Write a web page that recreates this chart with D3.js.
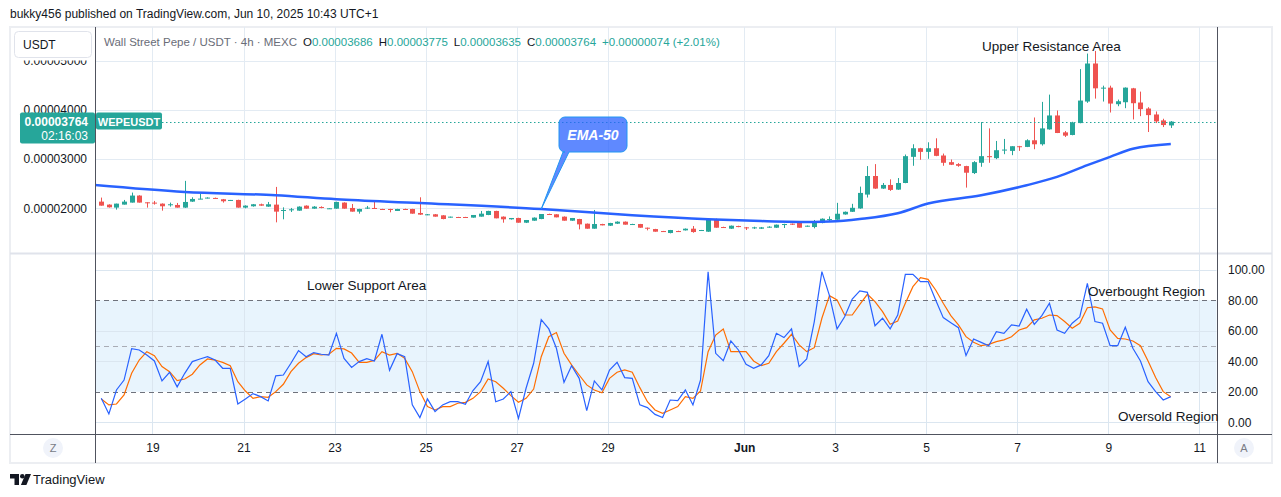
<!DOCTYPE html>
<html>
<head>
<meta charset="utf-8">
<script src="https://cdn.jsdelivr.net/npm/d3@7"></script>
<style>
body { margin: 0; background: #fff; }
text { font-family: "Liberation Sans", Arial, sans-serif; }
</style>
</head>
<body>
<div id="chart"></div>
<script>
// WEPE/USDT 4h candles, prices in units of 1e-8 USDT
var opens = [2136,2075,2014,2075,2116,2259,2122,2116,2095,2068,2068,2014,2136,2184,2204,2211,2184,2156,2170,2014,
  2041,2082,2034,2075,1952,1959,1952,2054,1993,2027,1993,1993,2116,2007,1932,2000,2007,1986,1986,1946,
  1986,1986,1905,1871,1878,1857,1816,1823,1823,1810,1830,1864,1946,1830,1776,1803,1707,1748,1782,1884,
  1878,1830,1748,1782,1687,1585,1680,1646,1687,1728,1667,1680,1605,1578,1537,1497,1537,1551,1585,1544,
  1524,1782,1619,1585,1639,1612,1599,1585,1612,1605,1667,1687,1701,1633,1619,1700,1761,1768,1875,1929,
  1997,2279,2657,2401,2475,2380,2515,3047,3222,3148,3222,3074,2939,2899,2859,2717,2926,3061,3020,3182,
  3168,3263,3249,3384,3303,3606,3889,3545,3492,3734,4172,4946,4441,4455,4118,4158,4441,4152,4030,3909,
  3788,3686];
var highs = [2218,2082,2095,2170,2320,2266,2122,2150,2100,2116,2109,2558,2224,2299,2224,2218,2190,2170,2175,2060,
  2088,2095,2129,2435,2020,2007,2040,2060,2045,2040,2005,2135,2122,2088,1990,2048,2129,1990,1990,1990,
  1993,1990,2224,1884,1884,1860,1830,1826,1826,1864,1946,1950,1950,1835,1803,1808,1762,1815,1884,1891,
  1880,1835,1803,1786,1690,1966,1685,1705,1735,1732,1685,1683,1608,1582,1540,1560,1544,1590,1639,1560,
  1782,1790,1625,1650,1645,1620,1625,1620,1635,1670,1685,1690,1705,1650,1762,1795,1835,2111,1935,2091,
  2441,2859,2899,2515,2589,2616,3094,3303,3230,3343,3424,3114,2993,2919,2865,2960,3754,3626,3370,3411,
  3263,3270,3404,3848,4165,4313,3990,3572,3760,4832,5148,5202,4495,4495,4212,4460,4450,4374,4057,3970,
  3822,3775];
var lows = [2054,2014,1973,2075,2116,2116,2014,2075,1952,2034,2014,2007,2130,2184,2200,2197,2116,2150,2014,2000,
  2034,2050,2030,1714,1776,1925,1950,1993,1990,2000,1990,1990,1993,1932,1891,1986,1986,1973,1918,1946,
  1970,1891,1864,1860,1830,1776,1810,1810,1810,1810,1830,1860,1796,1707,1770,1707,1700,1745,1778,1864,
  1816,1748,1745,1571,1585,1585,1653,1640,1680,1667,1660,1605,1551,1524,1520,1490,1520,1548,1503,1540,
  1520,1605,1600,1580,1615,1558,1580,1580,1605,1600,1599,1660,1605,1625,1592,1695,1721,1765,1870,1925,
  1990,2219,2395,2395,2354,2375,2510,2865,2987,3007,3060,2865,2880,2845,2421,2697,2845,2926,3000,3101,
  3081,3168,3245,3202,3276,3600,3530,3451,3485,3730,4145,4232,4172,3949,4077,4037,3808,3875,3552,3734,
  3653,3635];
var closes = [2054,2020,2095,2136,2259,2116,2109,2095,2041,2082,2014,2129,2190,2197,2218,2197,2143,2170,2014,2054,
  2082,2054,2082,1932,1966,1980,2034,1993,2034,2007,2000,2129,1993,1932,1986,2014,1986,1973,1973,1986,
  1973,1891,1871,1878,1830,1782,1830,1810,1816,1864,1891,1946,1796,1776,1803,1707,1762,1810,1884,1871,
  1816,1748,1803,1673,1585,1680,1653,1701,1728,1667,1680,1605,1592,1524,1524,1558,1524,1585,1517,1558,
  1782,1605,1605,1646,1619,1599,1612,1612,1626,1667,1680,1667,1605,1646,1714,1788,1781,1889,1929,2010,
  2313,2657,2401,2475,2374,2515,3061,3222,3148,3222,3067,2926,2886,2865,2724,2939,3061,3040,3182,3195,
  3263,3249,3384,3303,3626,3889,3532,3478,3747,4192,4946,4441,4455,4131,4178,4455,4138,4017,3896,3768,
  3694,3764];

// EMA-50 at some candles (candle index from 0, -1 = bar just left of the view)
var emaIdx = [-1,11,23,31,42,58,70,80,87,94,96,100,105,109,116,122,126,130,133,136,141];
var emaVal = [2475,2333,2265,2184,2108,1986,1857,1776,1740,1720,1729,1782,1898,2096,2265,2469,2639,2878,3047,3210,3306];

// Stochastic %K and %D
var stochK = [15.7,5.5,21.2,27.7,48.3,47.4,44.1,40.2,27.1,32.8,23.2,32.1,39.8,41.5,43.0,40.8,35.4,35.4,12.0,15.3,
  18.8,16.8,14.0,30.4,31.0,38.7,47.0,43.0,45.7,44.6,44.1,58.3,41.9,36.0,39.8,41.7,40.2,57.7,34.1,45.0,
  43.0,11.4,3.1,15.3,7.0,11.4,13.5,13.5,11.8,20.8,26.6,39.8,13.5,15.3,20.1,2.6,22.3,38.7,67.3,61.2,
  48.5,26.2,37.1,28.8,7.6,27.1,21.2,34.3,39.3,29.3,28.8,11.4,9.6,5.2,3.1,14.6,14.2,21.2,11.4,27.7,
  98.7,45.2,40.4,53.3,47.4,38.0,35.4,37.6,43.7,58.3,55.5,61.2,36.5,41.5,66.0,98.7,83.0,61.2,69.2,80.8,
  86.1,85.2,63.3,68.2,61.2,70.3,97.0,97.0,92.2,92.2,80.2,68.6,65.3,62.0,43.7,54.6,52.4,50.2,59.4,58.3,
  63.8,63.1,74.1,64.2,69.9,78.0,60.5,58.3,64.9,69.0,91.1,66.0,64.9,50.2,50.2,62.3,48.5,40.2,26.6,20.1,
  14.6,16.8];
var stochD = [15.3,11.4,12.0,17.9,32.1,40.8,46.3,43.7,36.5,33.2,27.3,28.4,31.5,37.6,41.5,40.8,39.3,37.1,26.6,20.5,
  15.7,16.8,16.4,20.1,24.9,33.2,38.7,42.4,45.0,44.1,44.6,48.5,48.1,45.4,39.3,39.3,40.6,46.3,44.1,45.2,
  41.9,33.2,20.1,10.3,8.1,10.3,10.3,12.5,13.1,15.7,20.1,28.4,26.6,22.3,17.5,13.1,15.7,21.8,43.0,56.1,
  58.8,45.2,37.6,31.0,24.5,21.2,19.4,28.8,32.8,34.3,32.8,22.7,13.5,8.1,5.9,8.1,10.3,16.8,15.7,20.5,
  46.3,57.2,61.2,46.3,46.3,46.3,40.2,37.1,38.7,46.3,51.8,57.7,50.7,46.3,48.9,68.2,83.0,80.2,70.3,70.3,
  77.3,83.9,79.1,72.5,64.2,66.4,78.0,88.9,94.8,93.7,86.7,78.0,69.9,63.8,56.1,52.4,50.2,51.1,52.9,54.0,
  56.1,60.5,62.0,67.1,68.2,70.3,69.9,66.0,61.6,64.9,75.1,75.6,74.3,60.5,55.0,54.6,53.3,50.2,40.2,29.3,
  20.1,16.8];

var dayTicks = ["2025-05-19","2025-05-21","2025-05-23","2025-05-25","2025-05-27","2025-05-29",
  "2025-06-01","2025-06-03","2025-06-05","2025-06-07","2025-06-09","2025-06-11"];
var dayLabels = ["19","21","23","25","27","29","Jun","3","5","7","9","11"];
var priceTicks = [2000, 3000, 4000, 5000];
var stochTicks = [0, 20, 40, 60, 80, 100];
var stochGrid = [0, 40, 60, 100];
var lastPrice = 3764;

var W = 1281, H = 497;
var plotL = 95, plotR = 1217, plotT = 27, sep = 253, plotB = 434, timeB = 463;
var up = "#26a69a", down = "#ef5350", gridCol = "#e3ebf3", ink = "#131722";

var t0 = Date.UTC(2025, 4, 17, 21);
var bar = 4 * 3600 * 1000;
var dates = closes.map(function (d, i) { return new Date(t0 + i * bar); });
var ticks = dayTicks.map(function (d) { return new Date(d + "T00:00:00Z"); });

var x = d3.scaleUtc().domain([dates[0], dates[dates.length - 1]]).range([101.3, 1170.8]);
var y = d3.scaleLinear().domain([2000, 4000]).range([208.3, 110]);
var ys = d3.scaleLinear().domain([0, 100]).range([422.3, 269.7]);

var svg = d3.select('#chart').append('svg')
    .attr('width', W)
    .attr('height', H);

svg.append("rect").attr("width", W).attr("height", H).attr("fill", "#fff");

var defs = svg.append("defs");
defs.append("clipPath").attr("id", "clipP").append("rect")
    .attr("x", plotL + 0.5).attr("y", plotT).attr("width", plotR - plotL - 1).attr("height", sep - plotT);
defs.append("clipPath").attr("id", "clipS").append("rect")
    .attr("x", plotL + 0.5).attr("y", sep).attr("width", plotR - plotL - 1).attr("height", plotB - sep);

// frame
svg.append("rect")
    .attr("x", 10).attr("y", plotT).attr("width", 1262).attr("height", timeB - plotT)
    .attr("fill", "none").attr("stroke", "#eceef2").attr("stroke-width", 2);

// price panel grid
var gp = svg.append("g").attr("clip-path", "url(#clipP)");
gp.selectAll(".hg").data(priceTicks).enter().append("line")
    .attr("x1", plotL).attr("x2", plotR)
    .attr("y1", function (d) { return Math.round(y(d)) + 0.5; })
    .attr("y2", function (d) { return Math.round(y(d)) + 0.5; })
    .attr("stroke", gridCol);
gp.selectAll(".vg").data(ticks).enter().append("line")
    .attr("x1", function (d) { return Math.round(x(d)) + 0.5; })
    .attr("x2", function (d) { return Math.round(x(d)) + 0.5; })
    .attr("y1", plotT).attr("y2", sep)
    .attr("stroke", gridCol);

// stochastic panel background
var gs = svg.append("g").attr("clip-path", "url(#clipS)");
gs.append("rect")
    .attr("x", plotL).attr("width", plotR - plotL)
    .attr("y", ys(80)).attr("height", ys(20) - ys(80))
    .attr("fill", "#e8f4fd");
gs.selectAll(".hg").data(stochGrid).enter().append("line")
    .attr("x1", plotL).attr("x2", plotR)
    .attr("y1", function (d) { return Math.round(ys(d)) + 0.5; })
    .attr("y2", function (d) { return Math.round(ys(d)) + 0.5; })
    .attr("stroke", "#dbe6f0");
gs.selectAll(".vg").data(ticks).enter().append("line")
    .attr("x1", function (d) { return Math.round(x(d)) + 0.5; })
    .attr("x2", function (d) { return Math.round(x(d)) + 0.5; })
    .attr("y1", sep).attr("y2", plotB)
    .attr("stroke", "#dbe6f0");
gs.selectAll(".band").data([80, 50, 20]).enter().append("line")
    .attr("x1", plotL).attr("x2", plotR)
    .attr("y1", function (d) { return Math.round(ys(d)) + 0.5; })
    .attr("y2", function (d) { return Math.round(ys(d)) + 0.5; })
    .attr("stroke", function (d) { return d === 50 ? "#a9acb5" : "#6f727c"; })
    .attr("stroke-dasharray", "5,4");

// candles
var idx = d3.range(closes.length);
var candle = gp.selectAll(".candle").data(idx).enter().append("g")
    .attr("fill", function (i) { return closes[i] >= opens[i] ? up : down; })
    .attr("stroke", function (i) { return closes[i] >= opens[i] ? up : down; });
candle.append("line")
    .attr("x1", function (i) { return Math.round(x(dates[i])) + 0.5; })
    .attr("x2", function (i) { return Math.round(x(dates[i])) + 0.5; })
    .attr("y1", function (i) { return y(highs[i]); })
    .attr("y2", function (i) { return y(lows[i]); })
    .attr("stroke-width", 1);
candle.append("rect")
    .attr("stroke", "none")
    .attr("x", function (i) { return Math.round(x(dates[i])) - 2; })
    .attr("width", 5)
    .attr("y", function (i) { return y(Math.max(opens[i], closes[i])); })
    .attr("height", function (i) { return Math.max(1, Math.abs(y(opens[i]) - y(closes[i]))); });

// EMA-50
var ema = d3.line()
    .x(function (d) { return x(new Date(t0 + d * bar)); })
    .y(function (d, i) { return y(emaVal[i]); })
    .curve(d3.curveMonotoneX);
gp.append("path").datum(emaIdx)
    .attr("d", ema)
    .attr("fill", "none").attr("stroke", "#2962ff").attr("stroke-width", 2.5);

// last price line
svg.append("line")
    .attr("x1", 162).attr("x2", plotR)
    .attr("y1", Math.round(y(lastPrice)) + 0.5).attr("y2", Math.round(y(lastPrice)) + 0.5)
    .attr("stroke", up).attr("stroke-dasharray", "1.5,2.5");

// stochastic lines
var sline = function (arr) {
    return d3.line().x(function (d, i) { return x(dates[i]); }).y(function (d) { return ys(d); })(arr);
};
gs.append("path").attr("d", sline(stochD))
    .attr("fill", "none").attr("stroke", "#ff6d00").attr("stroke-width", 1.2);
gs.append("path").attr("d", sline(stochK))
    .attr("fill", "none").attr("stroke", "#2962ff").attr("stroke-width", 1.2);

// separators and axis lines
svg.append("line").attr("x1", 10).attr("x2", 1272).attr("y1", sep + 0.5).attr("y2", sep + 0.5)
    .attr("stroke", "#e0e3eb").attr("stroke-width", 2);
svg.append("line").attr("x1", 10).attr("x2", 1272).attr("y1", plotB + 0.5).attr("y2", plotB + 0.5)
    .attr("stroke", "#50535e");
svg.append("line").attr("x1", plotL + 0.5).attr("x2", plotL + 0.5).attr("y1", plotT).attr("y2", timeB)
    .attr("stroke", "#50535e");
svg.append("line").attr("x1", plotR + 0.5).attr("x2", plotR + 0.5).attr("y1", plotT).attr("y2", timeB)
    .attr("stroke", "#50535e");

// price axis
var yAxis = d3.axisLeft(y).tickValues(priceTicks).tickSize(0).tickPadding(8)
    .tickFormat(function (d) { return (d / 1e8).toFixed(8); });
var ya = svg.append("g").attr("transform", "translate(" + plotL + ",0)").call(yAxis);
ya.select(".domain").remove();
ya.selectAll("text").attr("font-size", 12).attr("fill", ink).style("font-family", "Liberation Sans, Arial, sans-serif");

// stochastic axis
var sAxis = d3.axisRight(ys).tickValues(stochTicks).tickSize(0).tickPadding(11)
    .tickFormat(d3.format(".2f"));
var sa = svg.append("g").attr("transform", "translate(" + plotR + ",0)").call(sAxis);
sa.select(".domain").remove();
sa.selectAll("text").attr("font-size", 12).attr("fill", ink).style("font-family", "Liberation Sans, Arial, sans-serif");

// time axis
var xAxis = d3.axisBottom(x).tickValues(ticks).tickSize(0).tickPadding(9)
    .tickFormat(function (d, i) { return dayLabels[i]; });
var xa = svg.append("g").attr("transform", "translate(0," + plotB + ")").call(xAxis);
xa.select(".domain").remove();
xa.selectAll("text").attr("font-size", 12).attr("fill", ink)
    .attr("font-weight", function (d, i) { return dayLabels[i] === "Jun" ? "bold" : "normal"; })
    .style("font-family", "Liberation Sans, Arial, sans-serif");

// top-left overlay and USDT box
svg.append("rect").attr("x", 11).attr("y", plotT + 1).attr("width", plotL - 11.5).attr("height", 32.5).attr("fill", "#fff");
svg.append("rect").attr("x", 14.5).attr("y", 31.5).attr("width", 77).attr("height", 26).attr("rx", 4)
    .attr("fill", "#fff").attr("stroke", "#e0e3eb");
svg.append("text").attr("x", 23).attr("y", 48.5).attr("font-size", 12).attr("fill", ink).text("USDT");

// legend line
var legend = [
    { t: "Wall Street Pepe / USDT · 4h · MEXC", c: "#6a6d78", gap: 6 },
    { t: "O", c: ink, gap: 0 }, { t: "0.00003686", c: up, gap: 6 },
    { t: "H", c: ink, gap: 0 }, { t: "0.00003775", c: up, gap: 6 },
    { t: "L", c: ink, gap: 0 }, { t: "0.00003635", c: up, gap: 6 },
    { t: "C", c: ink, gap: 0 }, { t: "0.00003764", c: up, gap: 6 },
    { t: "+0.00000074 (+2.01%)", c: up, gap: 0 }
];
var lx = 104;
legend.forEach(function (d) {
    var t = svg.append("text").attr("x", lx).attr("y", 46).attr("font-size", 11.5).attr("fill", d.c).text(d.t);
    lx += t.node().getComputedTextLength() + d.gap;
});

// price labels
var py = y(lastPrice);
svg.append("rect").attr("x", 20).attr("y", py - 9).attr("width", plotL - 20).attr("height", 31).attr("rx", 2).attr("fill", up);
svg.append("text").attr("x", 88).attr("y", py + 4).attr("text-anchor", "end")
    .attr("font-size", 12).attr("font-weight", "bold").attr("fill", "#fff").text((lastPrice / 1e8).toFixed(8));
svg.append("text").attr("x", 88).attr("y", py + 18.5).attr("text-anchor", "end")
    .attr("font-size", 12).attr("fill", "#fff").text("02:16:03");
svg.append("rect").attr("x", plotL + 1).attr("y", py - 9).attr("width", 66).attr("height", 17).attr("rx", 2).attr("fill", up);
svg.append("text").attr("x", plotL + 34).attr("y", py + 4).attr("text-anchor", "middle")
    .attr("font-size", 11).attr("font-weight", "bold").attr("fill", "#fff").text("WEPEUSDT");

// annotations
function note(tx, ty, s) {
    svg.append("text").attr("x", tx).attr("y", ty).attr("font-size", 13.5).attr("fill", ink).text(s);
}
note(982, 51, "Upper Resistance Area");
note(307, 290, "Lower Support Area");
note(1088, 296, "Overbought Region");
note(1118, 421, "Oversold Region");

// EMA-50 callout
var tipX = x(new Date(t0 + emaIdx[5] * bar)), tipY = y(emaVal[5]);
var bx = 559, by = 117, bw = 68, bh = 35, r = 6;
var call = d3.path();
call.moveTo(bx + r, by);
call.lineTo(bx + bw - r, by);
call.arcTo(bx + bw, by, bx + bw, by + r, r);
call.lineTo(bx + bw, by + bh - r);
call.arcTo(bx + bw, by + bh, bx + bw - r, by + bh, r);
call.lineTo(bx + 10, by + bh);
call.lineTo(tipX, tipY);
call.lineTo(bx + 4, by + bh);
call.arcTo(bx, by + bh, bx, by + bh - r, r);
call.lineTo(bx, by + r);
call.arcTo(bx, by, bx + r, by, r);
call.closePath();
svg.append("path").attr("d", call.toString())
    .attr("fill", "rgba(41,98,255,0.75)").attr("stroke", "#2196f3").attr("stroke-width", 1);
svg.append("text").attr("x", bx + bw / 2).attr("y", by + 22.5).attr("text-anchor", "middle")
    .attr("font-size", 14).attr("font-style", "italic").attr("font-weight", 600).attr("fill", "#fff").text("EMA-50");

// Z and A buttons
[[53, "Z"], [1244, "A"]].forEach(function (b) {
    svg.append("circle").attr("cx", b[0]).attr("cy", 448).attr("r", 10).attr("fill", "#f0f3fa");
    svg.append("text").attr("x", b[0]).attr("y", 452).attr("text-anchor", "middle")
        .attr("font-size", 11).attr("fill", "#787b86").text(b[1]);
});

// header
svg.append("text").attr("x", 10).attr("y", 18).attr("font-size", 12).attr("fill", ink)
    .text("bukky456 published on TradingView.com, Jun 10, 2025 10:43 UTC+1");

// TradingView logo
svg.append("path").attr("d", "M10 474h9v11h-4.5v-6.5H10z").attr("fill", ink);
svg.append("circle").attr("cx", 22.3).attr("cy", 476.3).attr("r", 2.3).attr("fill", ink);
svg.append("path").attr("d", "M25.5 474h5.5l-4.6 11h-5.5z").attr("fill", ink);
svg.append("text").attr("x", 33).attr("y", 484).attr("font-size", 13).attr("fill", ink).text("TradingView");
</script>
</body>
</html>
